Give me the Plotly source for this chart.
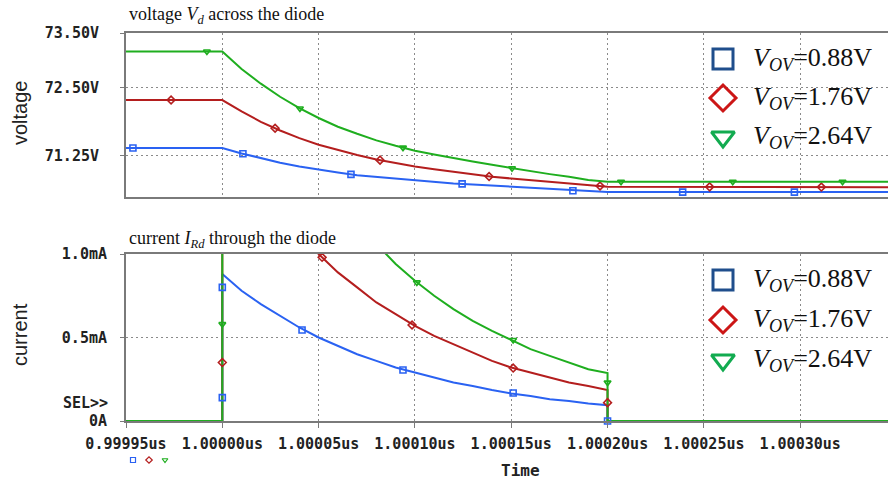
import numpy as np
import plotly.graph_objects as go

# ---------------- data ----------------
t_start = 0.99995
t_end = 1.0003456
t_decay = [1.00000, 1.00001, 1.00002, 1.00003, 1.00004, 1.00005, 1.00006, 1.00007,
           1.00008, 1.00009, 1.00010, 1.00011, 1.00012, 1.00013, 1.00014, 1.00015,
           1.00016, 1.00017, 1.00018, 1.00019, 1.00020]

# voltage across the diode (V)
v_blue_decay = [71.39, 71.29, 71.20, 71.12, 71.05, 70.99, 70.94, 70.89, 70.86, 70.82, 70.79,
                70.76, 70.74, 70.72, 70.70, 70.68, 70.65, 70.63, 70.61, 70.59, 70.58]
v_red_decay = [72.27, 72.06, 71.87, 71.71, 71.57, 71.45, 71.35, 71.26, 71.18, 71.11, 71.05,
               71.00, 70.95, 70.90, 70.86, 70.83, 70.80, 70.77, 70.74, 70.71, 70.68]
v_green_decay = [73.16, 72.84, 72.57, 72.33, 72.12, 71.94, 71.78, 71.65, 71.53, 71.43, 71.34,
                 71.27, 71.20, 71.14, 71.08, 71.02, 70.97, 70.91, 70.86, 70.80, 70.77]
v_blue_final = 70.58
v_red_final = 70.67
v_green_final = 70.77

# current through the diode (mA)
i_blue_decay = [0.88, 0.78, 0.70, 0.63, 0.56, 0.50, 0.45, 0.40, 0.36, 0.32, 0.29,
                0.26, 0.23, 0.21, 0.185, 0.165, 0.15, 0.13, 0.12, 0.105, 0.095]
i_red_decay = [1.76, 1.57, 1.40, 1.25, 1.12, 1.00, 0.89, 0.80, 0.71, 0.64, 0.57,
               0.51, 0.46, 0.41, 0.36, 0.32, 0.29, 0.26, 0.23, 0.21, 0.186]
i_green_decay = [2.60, 2.32, 2.08, 1.86, 1.66, 1.48, 1.32, 1.18, 1.06, 0.94, 0.84,
                 0.75, 0.67, 0.60, 0.54, 0.485, 0.43, 0.39, 0.35, 0.31, 0.287]

# marker positions (time) on the voltage traces
vm_blue_t = [0.9999536, 1.0000107, 1.0000668, 1.0001245, 1.000182, 1.000239, 1.000297]
vm_red_t = [0.9999734, 1.0000274, 1.0000819, 1.0001385, 1.0001961, 1.000253, 1.000311]
vm_green_t = [0.999992, 1.0000403, 1.0000938, 1.0001504, 1.000207, 1.000265, 1.000322]

# marker positions on the current traces
im_blue_t = [1.0, 1.0, 1.0000414, 1.0000938, 1.000151, 1.0002]
im_blue_v = [0.80, 0.14, 0.545, 0.305, 0.168, 0.0]
im_red_t = [1.0, 1.0000518, 1.0000985, 1.000151, 1.0002]
im_red_v = [0.35, 0.98, 0.575, 0.317, 0.11]
im_green_t = [1.0, 1.000101, 1.000151, 1.0002]
im_green_v = [0.58, 0.83, 0.485, 0.23]

x_tickvals = [0.99995, 1.00000, 1.00005, 1.00010, 1.00015, 1.00020, 1.00025, 1.00030]
x_ticktext = ["0.99995us", "1.00000us", "1.00005us", "1.00010us",
              "1.00015us", "1.00020us", "1.00025us", "1.00030us"]
v_tickvals = [71.25, 72.50, 73.50]
v_ticktext = ["71.25V", "72.50V", "73.50V"]
i_tickvals = [0.0, 0.5, 1.0]
i_ticktext = ["0A", "0.5mA", "1.0mA"]

legend_labels = ["<i>V<sub>OV</sub></i>=0.88V", "<i>V<sub>OV</sub></i>=1.76V",
                 "<i>V<sub>OV</sub></i>=2.64V"]

# ---------------- styles ----------------
W, H = 888, 481
LINE_COLORS = ["#2a62f2", "#b41e1e", "#1fae1f"]
LEG_COLORS = ["#1f4e8c", "#cc1616", "#12ab50"]
SYMBOLS = ["square-open", "diamond-open", "triangle-down-open"]
MONO = "DejaVu Sans Mono"
SERIF = "Liberation Serif"
GRID = "#8a8a8a"
AXIS = "#7a7a7a"

def px_x(p):
    return p / W

def px_y(p):
    return 1 - p / H

fig = go.Figure()

t_v = [t_start] + t_decay + [t_end]
volt = [
    [v_blue_decay[0]] + v_blue_decay + [v_blue_final],
    [v_red_decay[0]] + v_red_decay + [v_red_final],
    [v_green_decay[0]] + v_green_decay + [v_green_final],
]
vmark_t = [vm_blue_t, vm_red_t, vm_green_t]

t_i = [t_start, t_decay[0]] + t_decay + [t_decay[-1], t_end]
curr = [
    [0, 0] + i_blue_decay + [0, 0],
    [0, 0] + i_red_decay + [0, 0],
    [0, 0] + i_green_decay + [0, 0],
]
imark = [(im_blue_t, im_blue_v), (im_red_t, im_red_v), (im_green_t, im_green_v)]

for k in range(3):
    fig.add_trace(go.Scatter(x=t_v, y=volt[k], mode="lines",
                             line=dict(color=LINE_COLORS[k], width=2),
                             xaxis="x", yaxis="y", showlegend=False))
    my = np.interp(vmark_t[k], t_v, volt[k])
    fig.add_trace(go.Scatter(x=vmark_t[k], y=my, mode="markers",
                             marker=dict(symbol=SYMBOLS[k], size=6, color=LINE_COLORS[k],
                                         line=dict(width=1.6, color=LINE_COLORS[k])),
                             xaxis="x", yaxis="y", showlegend=False))

for k in range(3):
    fig.add_trace(go.Scatter(x=t_i, y=curr[k], mode="lines",
                             line=dict(color=LINE_COLORS[k], width=2),
                             xaxis="x2", yaxis="y2", showlegend=False))
for k in range(3):
    fig.add_trace(go.Scatter(x=imark[k][0], y=imark[k][1], mode="markers",
                             marker=dict(symbol=SYMBOLS[k], size=6, color=LINE_COLORS[k],
                                         line=dict(width=1.6, color=LINE_COLORS[k])),
                             cliponaxis=False,
                             xaxis="x2", yaxis="y2", showlegend=False))

# legend symbols (pixel overlay axis)
leg_y_top = [59, 98, 137]
leg_y_bot = [280, 320, 360]
leg_sizes = [20, 20, 20]
for k in range(3):
    fig.add_trace(go.Scatter(x=[723, 723], y=[leg_y_top[k], leg_y_bot[k]], mode="markers",
                             marker=dict(symbol=SYMBOLS[k], size=leg_sizes[k], color=LEG_COLORS[k],
                                         line=dict(width=3, color=LEG_COLORS[k])),
                             xaxis="x3", yaxis="y3", showlegend=False, cliponaxis=False))
# tiny trace-legend symbols under the axis
fig.add_trace(go.Scatter(x=[133, 149, 165], y=[460, 460, 460], mode="markers",
                         marker=dict(symbol=SYMBOLS, size=5, color=LINE_COLORS,
                                     line=dict(width=1.2, color=LINE_COLORS)),
                         xaxis="x3", yaxis="y3", showlegend=False, cliponaxis=False))

x_dom = [px_x(126), 1.0]
common_x = dict(range=[t_start, t_end], domain=x_dom, showgrid=True, gridcolor=GRID,
                griddash="2px,3px", gridwidth=1, showline=True, linecolor=AXIS, linewidth=2,
                mirror=True, zeroline=False, tickvals=x_tickvals, fixedrange=True,
                automargin=False)
tickfont = dict(family=MONO, size=15, color="#222222", weight="bold")

fig.update_layout(
    width=W, height=H,
    margin=dict(l=0, r=0, t=0, b=0, pad=0, autoexpand=False),
    paper_bgcolor="white", plot_bgcolor="rgba(0,0,0,0)",
    showlegend=False,
    xaxis=dict(**common_x, anchor="y", showticklabels=False, ticks=""),
    yaxis=dict(domain=[px_y(197), px_y(33)], range=[70.49, 73.5], anchor="x",
               tickvals=v_tickvals, ticktext=v_ticktext, showgrid=True, gridcolor=GRID,
               griddash="2px,3px", showline=True, linecolor=AXIS, linewidth=2,
               ticks="outside", ticklen=4, tickcolor=AXIS, tickwidth=1,
               tickfont=tickfont, ticklabelstandoff=18, zeroline=False, automargin=False),
    xaxis2=dict(**common_x, anchor="y2", ticktext=x_ticktext, ticks="outside", ticklen=5,
                tickcolor=AXIS, tickfont=tickfont, ticklabelstandoff=3),
    yaxis2=dict(domain=[px_y(421), px_y(254)], range=[0, 1.0], anchor="x2",
                tickvals=i_tickvals, ticktext=i_ticktext, showgrid=True, gridcolor=GRID,
                griddash="2px,3px", showline=True, linecolor=AXIS, linewidth=2,
                ticks="outside", ticklen=4, tickcolor=AXIS, tickwidth=1,
                tickfont=tickfont, ticklabelstandoff=10, zeroline=False, automargin=False),
    xaxis3=dict(domain=[0, 1], range=[0, W], visible=False, anchor="y3", fixedrange=True,
                automargin=False),
    yaxis3=dict(domain=[0, 1], range=[H, 0], visible=False, anchor="x3", fixedrange=True,
                automargin=False),
)

ann = []
ann.append(dict(text="voltage <i>V<sub>d</sub></i> across the diode", x=px_x(127), y=px_y(15),
                xref="paper", yref="paper", xanchor="left", yanchor="middle", showarrow=False,
                font=dict(family=SERIF, size=18, color="#111111")))
ann.append(dict(text="current <i>I<sub>Rd</sub></i> through the diode", x=px_x(127), y=px_y(239),
                xref="paper", yref="paper", xanchor="left", yanchor="middle", showarrow=False,
                font=dict(family=SERIF, size=18, color="#111111")))
ann.append(dict(text="voltage", x=px_x(20), y=px_y(113), xref="paper", yref="paper",
                textangle=-90, showarrow=False, xanchor="center", yanchor="middle",
                font=dict(family="Liberation Sans", size=20, color="#222222")))
ann.append(dict(text="current", x=px_x(20), y=px_y(335), xref="paper", yref="paper",
                textangle=-90, showarrow=False, xanchor="center", yanchor="middle",
                font=dict(family="Liberation Sans", size=20, color="#222222")))
ann.append(dict(text="SEL>>", x=px_x(110), y=px_y(403), xref="paper", yref="paper",
                xanchor="right", yanchor="middle", showarrow=False, font=tickfont))
ann.append(dict(text="Time", x=px_x(520), y=px_y(470), xref="paper", yref="paper",
                xanchor="center", yanchor="middle", showarrow=False,
                font=dict(family=MONO, size=16, color="#222222", weight="bold")))
for k in range(3):
    for yy in (leg_y_top[k], leg_y_bot[k]):
        ann.append(dict(text=legend_labels[k], x=px_x(751), y=px_y(yy), xref="paper", yref="paper",
                        xanchor="left", yanchor="middle", showarrow=False,
                        font=dict(family=SERIF, size=26, color="#111111")))
fig.update_layout(annotations=ann)

fig.write_html("out.html", config={"displayModeBar": False},
               post_script="document.body.style.margin='0';document.body.style.overflow='hidden';")
